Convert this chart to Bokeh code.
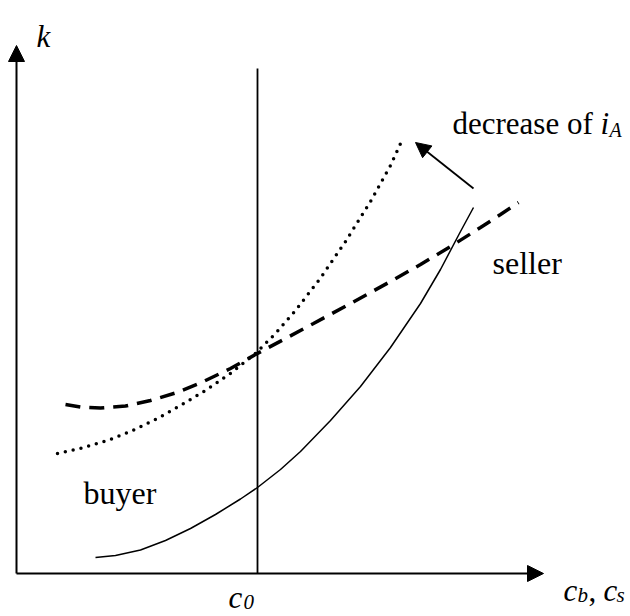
from bokeh.plotting import figure
from bokeh.models import Range1d, Arrow, NormalHead, Label
from bokeh.embed import file_html
from bokeh.resources import INLINE

# ---- schematic data (origin at the axes' intersection) ----
# solid curve
solid_x = [79, 99, 124, 149, 174, 199, 224, 241, 264, 284, 314, 344, 374, 404, 424, 444, 457]
solid_y = [16, 18, 23.5, 33, 45, 59, 74.5, 86, 104, 122, 153, 187, 226, 270, 304, 342, 366]

# dashed curve (seller)
seller_x = [49, 64, 84, 109, 134, 159, 184, 214, 239, 269, 297, 334, 374, 404, 434, 464, 484, 502]
seller_y = [169, 166.5, 165.5, 167.5, 173, 180.5, 190.5, 205, 219, 235, 250, 270, 292, 309, 327, 346, 359, 371]

# dotted curve (buyer)
buyer_x = [41, 64, 91, 114, 141, 164, 189, 214, 239, 259, 279, 304, 329, 354, 374, 384]
buyer_y = [120, 125, 133, 142, 155, 168, 183, 200, 220, 240, 263, 295.5, 332, 372, 408, 430]

c0 = 241          # position of the vertical line c0
c0_top = 505      # top of the vertical line
x_axis_end = 527
y_axis_end = 528
shift_from = (457, 385)   # arrow "decrease of i_A"
shift_to = (399, 431)

FONT = "Liberation Serif"

p = figure(width=630, height=616, x_range=Range1d(-16, 614), y_range=Range1d(-43, 573),
           output_backend="svg", toolbar_location=None, x_axis_type=None, y_axis_type=None,
           min_border=0)
p.grid.visible = False
p.outline_line_color = None
p.background_fill_color = "white"
p.border_fill_color = "white"

# axes with arrow heads
p.add_layout(Arrow(x_start=0, y_start=0, x_end=x_axis_end, y_end=0, line_width=2, line_color="black",
                   end=NormalHead(size=16, fill_color="black", line_color="black", line_width=1)))
p.add_layout(Arrow(x_start=0, y_start=0, x_end=0, y_end=y_axis_end, line_width=2, line_color="black",
                   end=NormalHead(size=16, fill_color="black", line_color="black", line_width=1)))

# vertical line at c0
p.line([c0, c0], [0, c0_top], line_color="black", line_width=1.8)

# curves
p.line(solid_x, solid_y, line_color="black", line_width=1.5)
p.line(seller_x, seller_y, line_color="black", line_width=3.5, line_dash="15 9")
p.line(buyer_x, buyer_y, line_color="black", line_width=3.5, line_dash="0 8", line_cap="round")

# shift arrow
p.add_layout(Arrow(x_start=shift_from[0], y_start=shift_from[1], x_end=shift_to[0], y_end=shift_to[1],
                   line_width=1.8, line_color="black",
                   end=NormalHead(size=15, fill_color="black", line_color="black", line_width=1)))

def lab(x, y, t, size=31, style="normal"):
    p.add_layout(Label(x=x, y=y, text=t, text_font=FONT, text_font_size=f"{size}px",
                       text_font_style=style, text_color="black",
                       text_baseline="alphabetic", text_align="left"))

lab(20, 537, "k", style="italic")
lab(436, 450, "decrease of ")
lab(584, 450, "i", style="italic")
lab(593, 444, "A", size=20, style="italic")
lab(476, 311, "seller", size=32)
lab(67, 81, "buyer", size=32)
lab(547, -17, "c", style="italic")
lab(561, -21, "b", size=21, style="italic")
lab(572, -17, ",")
lab(587, -17, "c", style="italic")
lab(600, -21, "s", size=21, style="italic")
lab(212, -24, "c", style="italic")
lab(227, -28, "0", size=21, style="italic")

open("out.html", "w").write(file_html(p, INLINE))
